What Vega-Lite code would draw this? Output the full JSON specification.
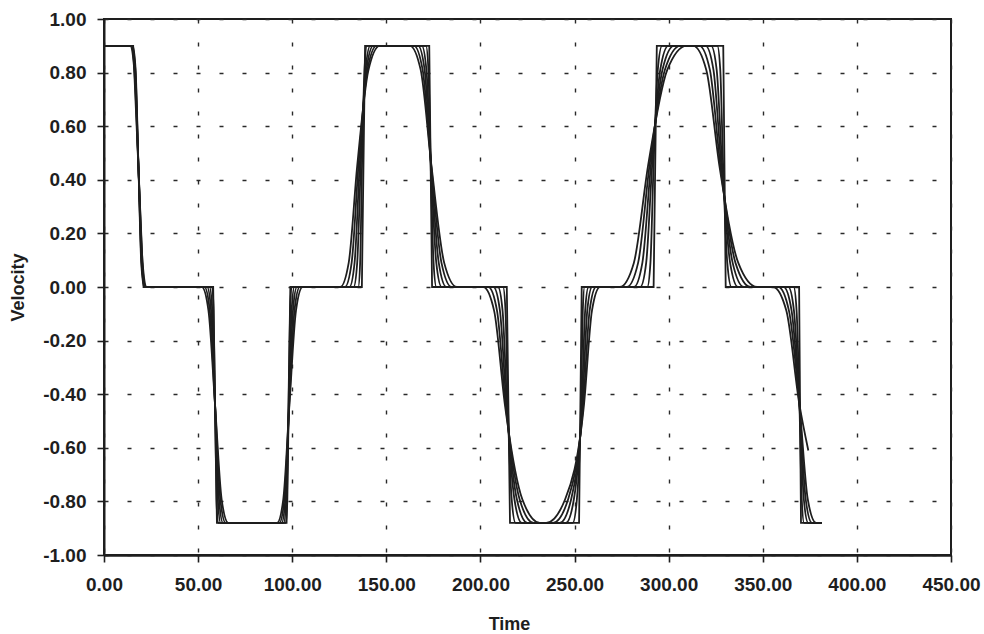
{
  "$schema": "https://vega.github.io/schema/vega-lite/v6.json",
  "width": 847,
  "height": 536,
  "autosize": "none",
  "padding": {"left": 104, "top": 19, "right": 33, "bottom": 79},
  "background": "white",
  "config": {
    "view": {"stroke": "#1e1e1e", "strokeWidth": 2},
    "font": "Liberation Sans"
  },
  "datasets": {
    "exact": [
      {"r":"e","t":0,"v":0.9},{"r":"e","t":15.5,"v":0.9},{"r":"e","t":21,"v":0},{"r":"e","t":58,"v":0},{"r":"e","t":60,"v":-0.88},{"r":"e","t":97,"v":-0.88},{"r":"e","t":99,"v":0},{"r":"e","t":137,"v":0},{"r":"e","t":138.7,"v":0.9},{"r":"e","t":172.8,"v":0.9},{"r":"e","t":174.3,"v":0},{"r":"e","t":214,"v":0},{"r":"e","t":215.7,"v":-0.88},{"r":"e","t":252.4,"v":-0.88},{"r":"e","t":253.8,"v":0},{"r":"e","t":292,"v":0},{"r":"e","t":293.7,"v":0.9},{"r":"e","t":329,"v":0.9},{"r":"e","t":330.3,"v":0},{"r":"e","t":369.3,"v":0},{"r":"e","t":370.3,"v":-0.88},{"r":"e","t":381.3,"v":-0.88}
    ],
    "num": [
      {"r":"a","t":0,"v":0.9},
      {"r":"a","t":15.3,"v":0.9},{"r":"a","t":16.8,"v":0.81},{"r":"a","t":18.3,"v":0.45},{"r":"a","t":19.8,"v":0.09},{"r":"a","t":21.3,"v":0},
      {"r":"a","t":57.46,"v":0},{"r":"a","t":58.23,"v":-0.088},{"r":"a","t":59,"v":-0.44},{"r":"a","t":59.77,"v":-0.792},{"r":"a","t":60.54,"v":-0.88},
      {"r":"a","t":96.68,"v":-0.88},{"r":"a","t":97.4,"v":-0.792},{"r":"a","t":98.11,"v":-0.44},{"r":"a","t":98.88,"v":-0.088},{"r":"a","t":99.65,"v":0},
      {"r":"a","t":135.09,"v":0},{"r":"a","t":136.08,"v":0.09},{"r":"a","t":137.07,"v":0.45},{"r":"a","t":138.39,"v":0.81},{"r":"a","t":139.71,"v":0.9},
      {"r":"a","t":171.08,"v":0.9},{"r":"a","t":172.35,"v":0.81},{"r":"a","t":173.61,"v":0.45},{"r":"a","t":175.1,"v":0.09},{"r":"a","t":176.58,"v":0},
      {"r":"a","t":212.03,"v":0},{"r":"a","t":213.3,"v":-0.088},{"r":"a","t":214.56,"v":-0.44},{"r":"a","t":216.6,"v":-0.792},{"r":"a","t":218.63,"v":-0.88},
      {"r":"a","t":249.04,"v":-0.88},{"r":"a","t":251.24,"v":-0.792},{"r":"a","t":253.44,"v":-0.44},{"r":"a","t":254.38,"v":-0.088},{"r":"a","t":255.31,"v":0},
      {"r":"a","t":288.66,"v":0},{"r":"a","t":290.31,"v":0.09},{"r":"a","t":291.96,"v":0.45},{"r":"a","t":294.22,"v":0.81},{"r":"a","t":296.47,"v":0.9},
      {"r":"a","t":325.87,"v":0.9},{"r":"a","t":327.41,"v":0.81},{"r":"a","t":328.95,"v":0.45},{"r":"a","t":331.15,"v":0.09},{"r":"a","t":333.35,"v":0},
      {"r":"a","t":366.42,"v":0},{"r":"a","t":367.96,"v":-0.088},{"r":"a","t":369.5,"v":-0.44},{"r":"a","t":370.71,"v":-0.792},{"r":"a","t":371.92,"v":-0.88},
      {"r":"a","t":381.3,"v":-0.88},

      {"r":"b","t":0,"v":0.9},
      {"r":"b","t":15.0,"v":0.9},{"r":"b","t":16.65,"v":0.81},{"r":"b","t":18.3,"v":0.45},{"r":"b","t":19.95,"v":0.09},{"r":"b","t":21.6,"v":0},
      {"r":"b","t":56.06,"v":0},{"r":"b","t":57.53,"v":-0.088},{"r":"b","t":59,"v":-0.44},{"r":"b","t":60.47,"v":-0.792},{"r":"b","t":61.94,"v":-0.88},
      {"r":"b","t":95.48,"v":-0.88},{"r":"b","t":96.85,"v":-0.792},{"r":"b","t":98.21,"v":-0.44},{"r":"b","t":99.68,"v":-0.088},{"r":"b","t":101.15,"v":0},
      {"r":"b","t":132.63,"v":0},{"r":"b","t":134.52,"v":0.09},{"r":"b","t":136.41,"v":0.45},{"r":"b","t":138.93,"v":0.81},{"r":"b","t":141.45,"v":0.9},
      {"r":"b","t":168.88,"v":0.9},{"r":"b","t":171.3,"v":0.81},{"r":"b","t":173.71,"v":0.45},{"r":"b","t":176.55,"v":0.09},{"r":"b","t":179.38,"v":0},
      {"r":"b","t":209.33,"v":0},{"r":"b","t":211.75,"v":-0.088},{"r":"b","t":214.16,"v":-0.44},{"r":"b","t":218.05,"v":-0.792},{"r":"b","t":221.93,"v":-0.88},
      {"r":"b","t":245.44,"v":-0.88},{"r":"b","t":249.64,"v":-0.792},{"r":"b","t":253.84,"v":-0.44},{"r":"b","t":255.63,"v":-0.088},{"r":"b","t":257.41,"v":0},
      {"r":"b","t":284.9,"v":0},{"r":"b","t":288.05,"v":0.09},{"r":"b","t":291.2,"v":0.45},{"r":"b","t":295.51,"v":0.81},{"r":"b","t":299.81,"v":0.9},
      {"r":"b","t":322.57,"v":0.9},{"r":"b","t":325.51,"v":0.81},{"r":"b","t":328.45,"v":0.45},{"r":"b","t":332.65,"v":0.09},{"r":"b","t":336.85,"v":0},
      {"r":"b","t":363.62,"v":0},{"r":"b","t":366.56,"v":-0.088},{"r":"b","t":369.5,"v":-0.44},{"r":"b","t":371.81,"v":-0.792},{"r":"b","t":374.12,"v":-0.88},
      {"r":"b","t":381.3,"v":-0.88},

      {"r":"c","t":0,"v":0.9},
      {"r":"c","t":14.7,"v":0.9},{"r":"c","t":16.5,"v":0.81},{"r":"c","t":18.3,"v":0.45},{"r":"c","t":20.1,"v":0.09},{"r":"c","t":21.9,"v":0},
      {"r":"c","t":54.8,"v":0},{"r":"c","t":56.9,"v":-0.088},{"r":"c","t":59,"v":-0.44},{"r":"c","t":61.1,"v":-0.792},{"r":"c","t":63.2,"v":-0.88},
      {"r":"c","t":94.4,"v":-0.88},{"r":"c","t":96.35,"v":-0.792},{"r":"c","t":98.3,"v":-0.44},{"r":"c","t":100.4,"v":-0.088},{"r":"c","t":102.5,"v":0},
      {"r":"c","t":130.42,"v":0},{"r":"c","t":133.12,"v":0.09},{"r":"c","t":135.82,"v":0.45},{"r":"c","t":139.42,"v":0.81},{"r":"c","t":143.02,"v":0.9},
      {"r":"c","t":166.9,"v":0.9},{"r":"c","t":170.35,"v":0.81},{"r":"c","t":173.8,"v":0.45},{"r":"c","t":177.85,"v":0.09},{"r":"c","t":181.9,"v":0},
      {"r":"c","t":206.9,"v":0},{"r":"c","t":210.35,"v":-0.088},{"r":"c","t":213.8,"v":-0.44},{"r":"c","t":219.35,"v":-0.792},{"r":"c","t":224.9,"v":-0.88},
      {"r":"c","t":242.2,"v":-0.88},{"r":"c","t":248.2,"v":-0.792},{"r":"c","t":254.2,"v":-0.44},{"r":"c","t":256.75,"v":-0.088},{"r":"c","t":259.3,"v":0},
      {"r":"c","t":281.52,"v":0},{"r":"c","t":286.02,"v":0.09},{"r":"c","t":290.52,"v":0.45},{"r":"c","t":296.67,"v":0.81},{"r":"c","t":302.82,"v":0.9},
      {"r":"c","t":319.6,"v":0.9},{"r":"c","t":323.8,"v":0.81},{"r":"c","t":328,"v":0.45},{"r":"c","t":334,"v":0.09},{"r":"c","t":340,"v":0},
      {"r":"c","t":361.1,"v":0},{"r":"c","t":365.3,"v":-0.088},{"r":"c","t":369.5,"v":-0.44},{"r":"c","t":372.8,"v":-0.792},{"r":"c","t":376.1,"v":-0.88},
      {"r":"c","t":381.3,"v":-0.88},

      {"r":"d","t":0,"v":0.9},
      {"r":"d","t":14.3,"v":0.9},{"r":"d","t":16.3,"v":0.81},{"r":"d","t":18.3,"v":0.45},{"r":"d","t":20.3,"v":0.09},{"r":"d","t":22.3,"v":0},
      {"r":"d","t":53.4,"v":0},{"r":"d","t":56.2,"v":-0.088},{"r":"d","t":59,"v":-0.44},{"r":"d","t":61.8,"v":-0.792},{"r":"d","t":64.6,"v":-0.88},
      {"r":"d","t":93.2,"v":-0.88},{"r":"d","t":95.8,"v":-0.792},{"r":"d","t":98.4,"v":-0.44},{"r":"d","t":101.2,"v":-0.088},{"r":"d","t":104.0,"v":0},
      {"r":"d","t":127.96,"v":0},{"r":"d","t":131.56,"v":0.09},{"r":"d","t":135.16,"v":0.45},{"r":"d","t":139.96,"v":0.81},{"r":"d","t":144.76,"v":0.9},
      {"r":"d","t":164.7,"v":0.9},{"r":"d","t":169.3,"v":0.81},{"r":"d","t":173.9,"v":0.45},{"r":"d","t":179.3,"v":0.09},{"r":"d","t":184.7,"v":0},
      {"r":"d","t":204.2,"v":0},{"r":"d","t":208.8,"v":-0.088},{"r":"d","t":213.4,"v":-0.44},{"r":"d","t":220.8,"v":-0.792},{"r":"d","t":228.2,"v":-0.88},
      {"r":"d","t":238.6,"v":-0.88},{"r":"d","t":246.6,"v":-0.792},{"r":"d","t":254.6,"v":-0.44},{"r":"d","t":258.0,"v":-0.088},{"r":"d","t":261.4,"v":0},
      {"r":"d","t":277.76,"v":0},{"r":"d","t":283.76,"v":0.09},{"r":"d","t":289.76,"v":0.45},{"r":"d","t":297.96,"v":0.81},{"r":"d","t":306.16,"v":0.9},
      {"r":"d","t":316.3,"v":0.9},{"r":"d","t":321.9,"v":0.81},{"r":"d","t":327.5,"v":0.45},{"r":"d","t":335.5,"v":0.09},{"r":"d","t":343.5,"v":0},
      {"r":"d","t":358.3,"v":0},{"r":"d","t":363.9,"v":-0.088},{"r":"d","t":369.5,"v":-0.44},{"r":"d","t":373.9,"v":-0.792},{"r":"d","t":378.3,"v":-0.88},
      {"r":"d","t":381.3,"v":-0.88},

      {"r":"f","t":0,"v":0.9},
      {"r":"f","t":13.9,"v":0.9},{"r":"f","t":16.1,"v":0.81},{"r":"f","t":18.3,"v":0.45},{"r":"f","t":20.5,"v":0.09},{"r":"f","t":22.7,"v":0},
      {"r":"f","t":52,"v":0},{"r":"f","t":55.5,"v":-0.088},{"r":"f","t":59,"v":-0.44},{"r":"f","t":62.5,"v":-0.792},{"r":"f","t":66,"v":-0.88},
      {"r":"f","t":92,"v":-0.88},{"r":"f","t":95.25,"v":-0.792},{"r":"f","t":98.5,"v":-0.44},{"r":"f","t":102,"v":-0.088},{"r":"f","t":105.5,"v":0},
      {"r":"f","t":125.5,"v":0},{"r":"f","t":130,"v":0.09},{"r":"f","t":134.5,"v":0.45},{"r":"f","t":140.5,"v":0.81},{"r":"f","t":146.5,"v":0.9},
      {"r":"f","t":162.5,"v":0.9},{"r":"f","t":168.25,"v":0.81},{"r":"f","t":174,"v":0.45},{"r":"f","t":180.75,"v":0.09},{"r":"f","t":187.5,"v":0},
      {"r":"f","t":201.5,"v":0},{"r":"f","t":207.25,"v":-0.088},{"r":"f","t":213,"v":-0.44},{"r":"f","t":222.25,"v":-0.792},{"r":"f","t":231.5,"v":-0.88},
      {"r":"f","t":235,"v":-0.88},{"r":"f","t":245,"v":-0.792},{"r":"f","t":255,"v":-0.44},{"r":"f","t":259.25,"v":-0.088},{"r":"f","t":263.5,"v":0},
      {"r":"f","t":274,"v":0},{"r":"f","t":281.5,"v":0.09},{"r":"f","t":289,"v":0.45},{"r":"f","t":299.25,"v":0.81},{"r":"f","t":309.5,"v":0.9},
      {"r":"f","t":313,"v":0.9},{"r":"f","t":320,"v":0.81},{"r":"f","t":327,"v":0.45},{"r":"f","t":337,"v":0.09},{"r":"f","t":347,"v":0},
      {"r":"f","t":355.5,"v":0},{"r":"f","t":362.5,"v":-0.088},{"r":"f","t":369.5,"v":-0.44},{"r":"f","t":374.2,"v":-0.61}
    ]
  },
  "encoding": {
    "x": {
      "field": "t", "type": "quantitative",
      "scale": {"domain": [0, 450], "nice": false, "zero": false},
      "axis": {
        "title": "Time",
        "values": [0, 50, 100, 150, 200, 250, 300, 350, 400, 450],
        "labelExpr": "format(datum.value, '.2f')",
        "labelFont": "Liberation Sans", "labelFontSize": 19, "labelFontWeight": "bold", "labelColor": "#1e1e1e",
        "labelPadding": 13, "labelOverlap": false, "labelFlush": false,
        "tickSize": 7, "tickColor": "#1e1e1e", "tickWidth": 1.6,
        "domainColor": "#1e1e1e", "domainWidth": 2.5,
        "grid": true, "gridDash": [4, 19], "gridColor": "#2a2a2a", "gridWidth": 1.4,
        "titleFont": "Liberation Sans", "titleFontSize": 18, "titleFontWeight": "bold", "titleColor": "#1e1e1e",
        "titleX": 405, "titleY": 74, "titleBaseline": "alphabetic", "titleAlign": "center"
      }
    },
    "y": {
      "field": "v", "type": "quantitative",
      "scale": {"domain": [-1, 1], "nice": false, "zero": false},
      "axis": {
        "title": "Velocity",
        "values": [-1, -0.8, -0.6, -0.4, -0.2, 0, 0.2, 0.4, 0.6, 0.8, 1],
        "labelExpr": "(datum.value < -0.001 ? '-' : '') + format(abs(datum.value), '.2f')",
        "labelFont": "Liberation Sans", "labelFontSize": 19, "labelFontWeight": "bold", "labelColor": "#1e1e1e",
        "labelPadding": 11, "labelOverlap": false, "labelFlush": false,
        "tickSize": 7, "tickColor": "#1e1e1e", "tickWidth": 1.6,
        "domainColor": "#1e1e1e", "domainWidth": 2,
        "grid": true, "gridDash": [4, 19], "gridColor": "#2a2a2a", "gridWidth": 1.4,
        "titleFont": "Liberation Sans", "titleFontSize": 18, "titleFontWeight": "bold", "titleColor": "#1e1e1e",
        "titleX": -81, "titleY": 268, "titleBaseline": "alphabetic", "titleAlign": "center", "titleAngle": 270
      }
    }
  },
  "layer": [
    {
      "data": {"name": "num"},
      "mark": {"type": "line", "interpolate": "monotone", "color": "#1e1e1e", "strokeWidth": 1.8},
      "encoding": {"detail": {"field": "r", "type": "nominal"}}
    },
    {
      "data": {"name": "exact"},
      "mark": {"type": "line", "interpolate": "linear", "color": "#1e1e1e", "strokeWidth": 1.8},
      "encoding": {"detail": {"field": "r", "type": "nominal"}}
    }
  ]
}
